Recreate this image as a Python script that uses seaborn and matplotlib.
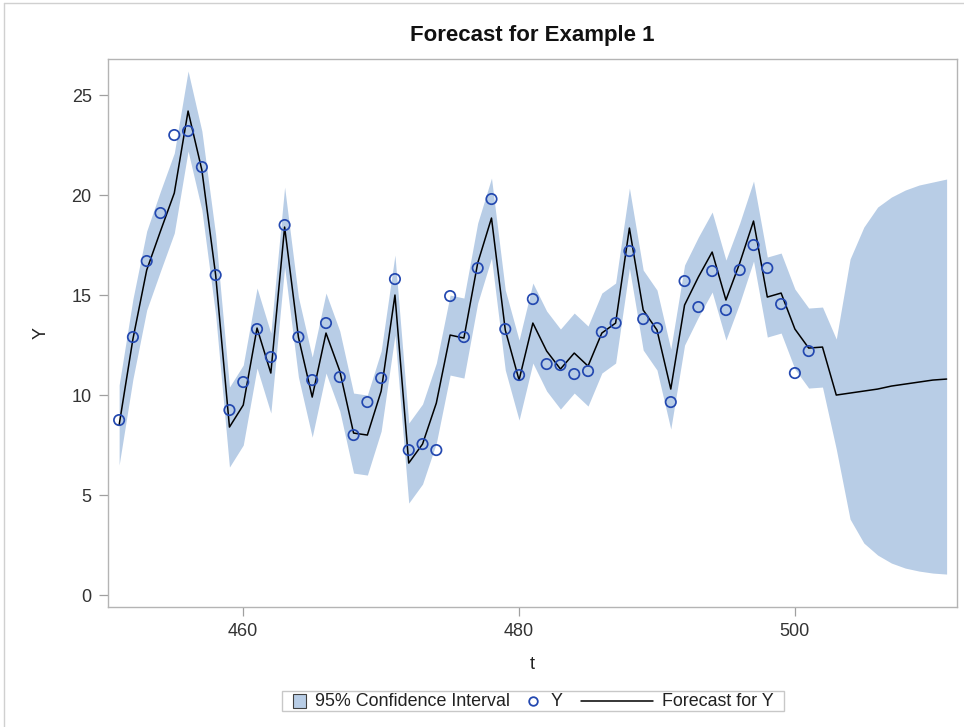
import pandas as pd
import matplotlib.pyplot as plt
import matplotlib.patches as mpatches
from matplotlib.lines import Line2D
from matplotlib.offsetbox import AnchoredOffsetbox, HPacker, DrawingArea, TextArea
import seaborn as sns

# -------------------------
# data
# -------------------------
t_obs = list(range(451, 502))
y_obs = [8.75, 12.9, 16.7, 19.1, 23.0, 23.2, 21.4, 16.0, 9.25, 10.65,
         13.3, 11.9, 18.5, 12.9, 10.75, 13.6, 10.9, 8.0, 9.65, 10.85,
         15.8, 7.25, 7.55, 7.25, 14.95, 12.9, 16.35, 19.8, 13.3, 11.0,
         14.8, 11.55, 11.5, 11.05, 11.2, 13.15, 13.6, 17.2, 13.8, 13.35,
         9.65, 15.7, 14.4, 16.2, 14.25, 16.25, 17.5, 16.35, 14.55, 11.1,
         12.2]

t_all = list(range(451, 512))
forecast = [8.5, 12.8, 16.25, 18.2, 20.1, 24.2, 21.25, 16.0, 8.4, 9.5,
            13.35, 11.1, 18.4, 12.9, 9.9, 13.1, 11.2, 8.1, 8.0, 10.2,
            15.0, 6.6, 7.55, 9.6, 13.0, 12.85, 16.6, 18.85, 13.25, 10.75,
            13.6, 12.2, 11.3, 12.1, 11.45, 13.1, 13.6, 18.35, 14.25, 13.25,
            10.3, 14.5, 15.9, 17.15, 14.75, 16.6, 18.7, 14.9, 15.1, 13.3,
            12.35, 12.4, 10.0, 10.1, 10.2, 10.3, 10.45, 10.55, 10.65, 10.75,
            10.8]
upper = [10.5, 14.8, 18.2, 20.2, 22.1, 26.2, 23.2, 18.0, 10.4, 11.5,
         15.35, 13.1, 20.4, 14.9, 11.9, 15.1, 13.2, 10.1, 10.0, 12.2,
         17.0, 8.6, 9.55, 11.6, 15.0, 14.85, 18.6, 20.85, 15.25, 12.75,
         15.6, 14.2, 13.3, 14.1, 13.45, 15.1, 15.6, 20.35, 16.25, 15.25,
         12.3, 16.5, 17.9, 19.15, 16.75, 18.6, 20.7, 16.9, 17.1, 15.3,
         14.35, 14.4, 12.8, 16.8, 18.4, 19.4, 19.9, 20.25, 20.5, 20.65,
         20.8]
lower = [6.5, 10.8, 14.25, 16.2, 18.1, 22.2, 19.25, 14.0, 6.4, 7.5,
         11.35, 9.1, 16.4, 10.9, 7.9, 11.1, 9.2, 6.1, 6.0, 8.2,
         13.0, 4.6, 5.55, 7.6, 11.0, 10.85, 14.6, 16.85, 11.25, 8.75,
         11.6, 10.2, 9.3, 10.1, 9.45, 11.1, 11.6, 16.35, 12.25, 11.25,
         8.3, 12.5, 13.9, 15.15, 12.75, 14.6, 16.7, 12.9, 13.1, 11.3,
         10.35, 10.4, 7.3, 3.8, 2.6, 2.0, 1.6, 1.35, 1.2, 1.1,
         1.05]

x_ticks = [460, 480, 500]
y_ticks = [0, 5, 10, 15, 20, 25]

obs = pd.DataFrame({"t": t_obs, "Y": y_obs})
fc = pd.DataFrame({"t": t_all, "forecast": forecast, "lower": lower, "upper": upper})

band_color = "#B8CDE6"
marker_color = "#2348B0"
spine_color = "#B4B4B4"
text_color = "#222222"

# -------------------------
# plot
# -------------------------
sns.set_theme(style="white")
plt.rcParams["font.family"] = ["Liberation Sans", "DejaVu Sans"]

fig = plt.figure(figsize=(9.64, 7.27), dpi=100)
ax = fig.add_axes([0.1117, 0.1655, 0.8807, 0.7533])

ax.fill_between(fc["t"], fc["lower"], fc["upper"], color=band_color, linewidth=0)
sns.lineplot(data=fc, x="t", y="forecast", color="black", linewidth=1.1, ax=ax)
sns.scatterplot(data=obs, x="t", y="Y", marker="o", s=56, facecolor="none",
                edgecolor=marker_color, linewidth=1.25, ax=ax, zorder=3)

ax.set_xlim(450.17, 511.73)
ax.set_ylim(-0.58, 26.8)
ax.set_xticks(x_ticks)
ax.set_yticks(y_ticks)
ax.tick_params(direction="out", length=6.5, width=0.9, color="#A0A0A0",
               labelsize=13, labelcolor="#333333", pad=5, left=True, bottom=True)
for sp in ax.spines.values():
    sp.set_color(spine_color)
    sp.set_linewidth(1.0)

ax.set_xlabel("t", fontsize=13, color=text_color, labelpad=12)
ax.set_ylabel("Y", fontsize=13, color=text_color, labelpad=16)
ax.set_title("Forecast for Example 1", fontsize=16, fontweight="bold",
             color="#111111", pad=13)

# legend below the plot
sq = DrawingArea(10, 10)
sq.add_artist(mpatches.Rectangle((0, 0), 10, 10, facecolor=band_color,
                                 edgecolor="#404040", linewidth=0.8))
mk = DrawingArea(9.5, 10)
mk.add_artist(Line2D([3.5], [5], marker="o", markersize=6.2, markerfacecolor="none",
                     markeredgecolor=marker_color, markeredgewidth=1.3))
ln = DrawingArea(52, 10)
ln.add_artist(Line2D([0, 52], [5, 5], color="black", linewidth=1.1))

tp = dict(fontsize=12.9, color=text_color)
pair1 = HPacker(children=[DrawingArea(0, 0), sq, TextArea("95% Confidence Interval", textprops=tp)],
                sep=6.5, align="center")
pair2 = HPacker(children=[mk, TextArea("Y", textprops=tp)], sep=6.5, align="center")
pair3 = HPacker(children=[ln, TextArea("Forecast for Y", textprops=tp), DrawingArea(0, 0)],
                sep=6.5, align="center")
row = HPacker(children=[pair1, pair2, pair3], sep=13, align="center")

leg = AnchoredOffsetbox(loc="center", child=row, pad=0.1, borderpad=0, frameon=True,
                        prop=dict(size=13), bbox_to_anchor=(533 / 964, 1 - 701 / 727),
                        bbox_transform=fig.transFigure)
leg.patch.set_edgecolor("#C8C8C8")
leg.patch.set_linewidth(1.0)
fig.add_artist(leg)

# thin outer border like the original output
fig.add_artist(Line2D([4 / 964, 4 / 964], [0, 1 - 3 / 727], transform=fig.transFigure,
                      color="#D0D0D0", linewidth=1.0))
fig.add_artist(Line2D([4 / 964, 1], [1 - 3 / 727, 1 - 3 / 727], transform=fig.transFigure,
                      color="#D0D0D0", linewidth=1.0))

fig.savefig("out.png", dpi=100)
plt.close(fig)
